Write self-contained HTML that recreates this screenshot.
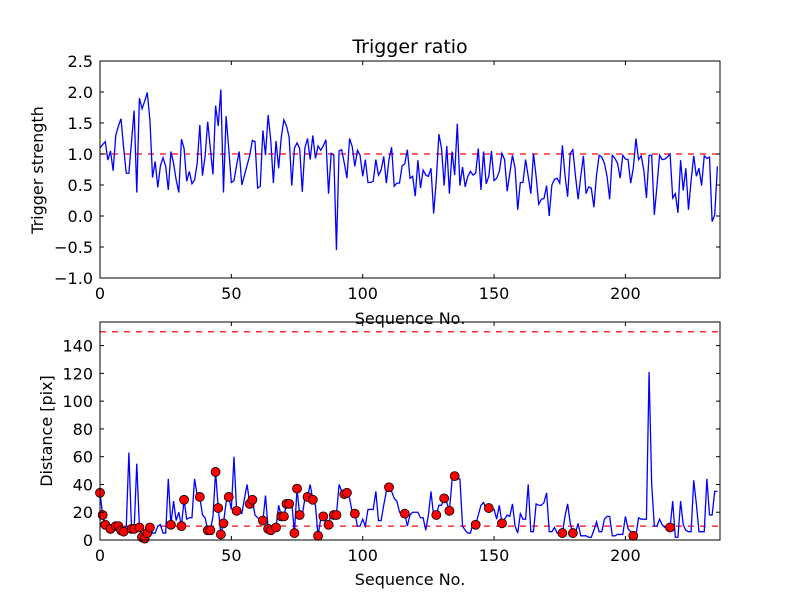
<!DOCTYPE html>
<html><head><meta charset="utf-8"><style>
body{margin:0;background:#fff;}
svg text{font-family:"DejaVu Sans","Liberation Sans",sans-serif;}
</style></head><body>
<svg id="fig" width="800" height="600" viewBox="0 0 800 600" xmlns="http://www.w3.org/2000/svg">
<rect width="800" height="600" fill="#fff"/>
</svg>
<script>
const ratio = [1.1,1.15,1.2,0.9,1.05,0.73,1.3,1.45,1.57,1.1,0.69,0.69,1.2,1.7,0.38,1.9,1.73,1.85,1.99,1.55,0.62,0.88,0.46,0.81,0.94,0.8,0.42,1.04,0.85,0.58,0.38,1.24,1.09,0.56,0.72,0.52,0.58,0.85,1.47,0.65,0.96,1.52,1.09,0.67,1.78,1.45,2.04,0.38,1.61,1.09,0.54,0.57,0.82,1.04,0.5,0.66,0.82,0.98,1.22,1.2,0.45,0.48,1.38,0.98,1.63,1.22,0.53,1.21,0.77,1.27,1.55,1.45,1.27,0.49,1.09,1.18,1.09,0.39,1.1,1.25,
0.91,1.3,0.93,1.13,1.06,1.13,1.23,0.36,1.01,0.98,-0.55,1.05,1.07,0.85,0.61,1.25,1.12,0.8,1.06,0.98,0.64,0.91,0.54,0.54,0.56,0.91,0.66,0.74,0.96,0.53,0.91,1.11,0.48,0.53,0.53,0.81,0.84,1.07,0.61,0.64,0.32,0.9,0.45,0.74,0.66,0.64,0.77,0.04,0.57,1.32,1.09,0.49,1.13,0.36,1.04,0.66,1.49,0.49,0.79,0.47,0.64,0.72,0.66,0.69,1.09,0.42,1.04,0.52,0.64,1.05,0.57,0.61,0.72,1.01,0.91,0.4,0.69,
0.98,0.77,0.1,0.54,0.54,0.91,0.64,0.36,1.01,0.64,0.19,0.27,0.28,0.49,0.0,0.5,0.59,0.61,0.53,1.14,0.66,0.31,1.01,1.07,0.64,0.27,0.64,0.97,0.36,0.47,0.45,0.14,0.66,0.98,0.95,0.85,0.64,0.27,0.98,0.93,0.85,0.61,0.98,0.92,0.91,0.53,0.77,1.25,0.91,0.97,0.74,0.29,0.98,0.98,0.02,0.48,0.98,0.91,0.92,0.95,1.0,0.29,0.36,0.05,0.9,0.41,0.77,0.1,0.57,0.97,0.64,0.77,0.49,0.97,0.93,0.95,-0.09,0.02,0.8];
const dist = [34,18,11,10,8,9,10,10,7,6, 10,63,8,8,55,9,2,1,5,9, 5,5,10,11,5,5,44,11,28,14, 20,10,29,15,16,16,44,32,31,18, 16,7,7,17,49,23,4,12,27,31, 22,60,21,20,19,30,40,26,29,18, 16,15,14,32,8,7,9,9,25,17, 17,26,26,27,5,37,18,18,30,31, 40,29,25,3,15,17,12,11,20,18, 18,40,35,33,34,30,20,19,10,10, 15,10,22,22,22,35,14,14,25,35, 38,35,30,28,20,18,19,10,18,20, 20,20,16,16,7,18,35,17,18,25, 25,30,27,21,43,46,44,44,10,7, 5,5,12,11,18,25,27,22,23,22, 22,15,25,12,15,18,17,26,10,5,
19,15,15,40,6,6,26,25,25,27, 34,6,6,9,5,5,5,17,26,12, 5,5,12,3,3,3,2,2,7,13, 6,6,15,17,17,3,3,4,4,4, 17,8,6,3,3,16,15,15,15,121, 40,10,10,15,11,9,9,9,28,2, 2,28,11,7,6,6,43,26,6,6, 6,44,18,18,35,35];
const markIdx = [0,1,2,4,6,7,8,9,12,13,15,16,17,18,19,27,31,32,38,41,42,44,45,46,47,49,52,57,58,62,64,65,67,69,70,71,72,74,75,76,79,81,83,85,87,89,90,93,94,97,110,116,128,131,133,135,143,148,153,176,180,203,217];
const xTicks = [0,50,100,150,200];
const yTicksTop = [-1.0,-0.5,0.0,0.5,1.0,1.5,2.0,2.5];
const yTicksBot = [0,20,40,60,80,100,120,140];
const ratioThresh = [1.0];
const distThresh = [10,150];

const NS="http://www.w3.org/2000/svg";
const svg=document.getElementById('fig');
function mk(tag,attrs,parent){const e=document.createElementNS(NS,tag);for(const k in attrs)e.setAttribute(k,attrs[k]);(parent||svg).appendChild(e);return e;}
const L=100,R=720,XMAX=236;
const sx=v=>L+(v/XMAX)*(R-L);
const axTop={t:61,b:278,min:-1,max:2.5};
const axBot={t:322,b:540,min:0,max:157};
const sy=(ax,v)=>ax.b-(v-ax.min)/(ax.max-ax.min)*(ax.b-ax.t);

function axes(ax,yt,fmt,name){
  const g=mk('g',{});
  
  
  xTicks.forEach(v=>{const x=sx(v);
    mk('line',{x1:x,x2:x,y1:ax.b,y2:ax.b-4,stroke:'#000'},g);
    mk('line',{x1:x,x2:x,y1:ax.t,y2:ax.t+4,stroke:'#000'},g);
    const t=mk('text',{x:x,y:ax.b+21,'font-size':16,'text-anchor':'middle'},g);t.textContent=v;
    
    
  });
  yt.forEach(v=>{const y=sy(ax,v);
    mk('line',{x1:L,x2:L+4,y1:y,y2:y,stroke:'#000'},g);
    mk('line',{x1:R,x2:R-4,y1:y,y2:y,stroke:'#000'},g);
    const t=mk('text',{x:L-7,y:y+6,'font-size':16,'text-anchor':'end'},g);t.textContent=fmt(v).replace('-','\u2212');
    
    
  });
  return g;
}
function line(ax,arr,name){
  const p=mk('polyline',{points:arr.map((v,i)=>sx(i)+','+sy(ax,v)).join(' '),fill:'none',stroke:'#0000ff','stroke-width':1.3});
  
  
}
function hline(ax,v,name){
  const l=mk('line',{x1:L,x2:R,y1:sy(ax,v),y2:sy(ax,v),stroke:'#ff0000','stroke-width':1.3,'stroke-dasharray':'6,6'});
  
  
}
// top
ratioThresh.forEach(v=>hline(axTop,v,'ratio-threshold-line'));
line(axTop,ratio,'trigger-strength-line');
axes(axTop,yTicksTop,v=>v.toFixed(1),'top-axes');
mk('rect',{x:L,y:axTop.t,width:R-L,height:axTop.b-axTop.t,fill:'none',stroke:'#000','stroke-width':1});
// bottom
distThresh.forEach(v=>hline(axBot,v,'distance-threshold-line'));
line(axBot,dist,'distance-line');
markIdx.forEach(i=>{
  const c=mk('circle',{cx:sx(i),cy:sy(axBot,dist[i]),r:4.5,fill:'#ff0000',stroke:'#000','stroke-width':0.8});
  
  
});
axes(axBot,yTicksBot,v=>String(v),'bottom-axes');
mk('rect',{x:L,y:axBot.t,width:R-L,height:axBot.b-axBot.t,fill:'none',stroke:'#000','stroke-width':1});
// labels
function txt(s,attrs,name){const t=mk('text',attrs);t.textContent=s;
  
  }
txt('Trigger ratio',{x:410,y:53,'font-size':19,'text-anchor':'middle'},'chart-title');
txt('Sequence No.',{x:410,y:324,'font-size':16,'text-anchor':'middle'},'top-x-axis-title');
txt('Sequence No.',{x:410,y:585,'font-size':16,'text-anchor':'middle'},'bottom-x-axis-title');
txt('Trigger strength',{x:43,y:170,'font-size':16,'text-anchor':'middle',transform:'rotate(-90 43 170)'},'top-y-axis-title');
txt('Distance [pix]',{x:52,y:431,'font-size':16,'text-anchor':'middle',transform:'rotate(-90 52 431)'},'bottom-y-axis-title');
</script>
</body></html>
